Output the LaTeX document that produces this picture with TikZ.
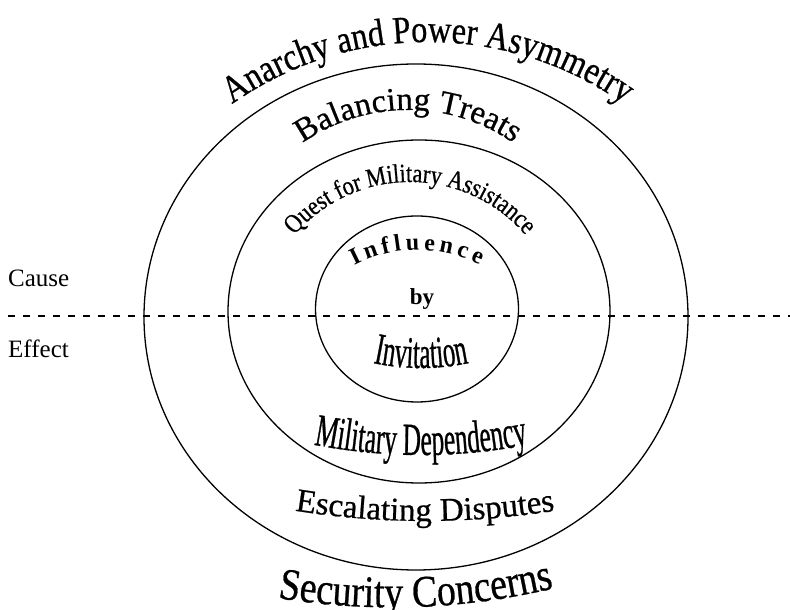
\documentclass[tikz,border=0pt]{standalone}
\usepackage{fontspec}
\setmainfont{Liberation Serif}
\newfontfamily\ringfont[FakeBold=0.6]{Liberation Serif}
\newfontfamily\archfont[FakeStretch=0.84, FakeBold=0.6]{Liberation Serif}
\newfontfamily\tallfont[FakeStretch=0.55, FakeBold=0.6]{Liberation Serif}
\usetikzlibrary{decorations.text}
\tikzset{
  ring/.style={draw=black, line width=1.3pt},
  divider/.style={draw=black, line width=1.4pt, dash pattern=on 6.5pt off 8.5pt},
  sidelabel/.style={font=\fontsize{25}{25}\selectfont, anchor=base west, inner sep=0pt},
  ringlabel/.style={anchor=base, inner sep=0pt},
}

\begin{document}
\begin{tikzpicture}[x=1pt, y=1pt]
\useasboundingbox (0,0) rectangle (790,610);
% the three rings
\draw[ring] (416,293) ellipse [x radius=272, y radius=253];
\draw[ring] (419,298.5) ellipse [x radius=191, y radius=171.5];
\draw[ring] (417,301) ellipse [x radius=101.5, y radius=93];
% cause / effect split
\draw[divider] (8,294) -- (790,294);
\node[sidelabel] (cause) at (8,323) {Cause};
\node[sidelabel] (effect) at (8,252) {Effect};
% outer ring
\path[decorate, decoration={text along path, text align=center,
  text={|\archfont\fontsize{38.5}{38.5}\selectfont|Anarchy and Power Asymmetry}}]
  (149.5,423) arc[start angle=145, end angle=35, radius=340];
\path[decorate, decoration={text along path, text align=center,
  text={|\archfont\fontsize{45}{45}\selectfont|Security Concerns}}]
  (176.9,36.7) arc[start angle=252, end angle=292, radius=696];
% middle ring
\path[decorate, decoration={text along path, text align=center,
  text={|\ringfont\fontsize{33}{33}\selectfont|Balancing Treats}}]
  (247.8,407.5) arc[start angle=150, end angle=30, radius=185];
\path[decorate, decoration={text along path, text align=center,
  text={|\ringfont\fontsize{33}{33}\selectfont|Escalating Disputes}}]
  (211.7,117.1) arc[start angle=255, end angle=285, radius=824];
% inner ring
\path[decorate, decoration={text along path, text align=center,
  text={|\archfont\fontsize{26.5}{26.5}\selectfont|Quest for Military Assistance}}]
  (263.2,315.3) arc[start angle=165, end angle=15, radius=152];
\path[decorate, decoration={text along path, text align=center,
  text={|\tallfont\fontsize{46}{46}\selectfont|Military Dependency}}]
  (229.1,188.8) arc[start angle=250, end angle=290, radius=561];
% core
\path[decorate, decoration={text along path, text align=fit to path,
  text={|\bfseries\fontsize{24}{24}\selectfont|Influence}}]
  (354.1,344.1) arc[start angle=118, end angle=63, radius=136];
\node[ringlabel, font=\bfseries\fontsize{23}{23}\selectfont] (by) at (422,305) {by};
\path[decorate, decoration={text along path, text align=center,
  text={|\tallfont\fontsize{45}{45}\selectfont|Invitation}}]
  (304.5,273.2) arc[start angle=240, end angle=300, radius=233];
\end{tikzpicture}
\end{document}
